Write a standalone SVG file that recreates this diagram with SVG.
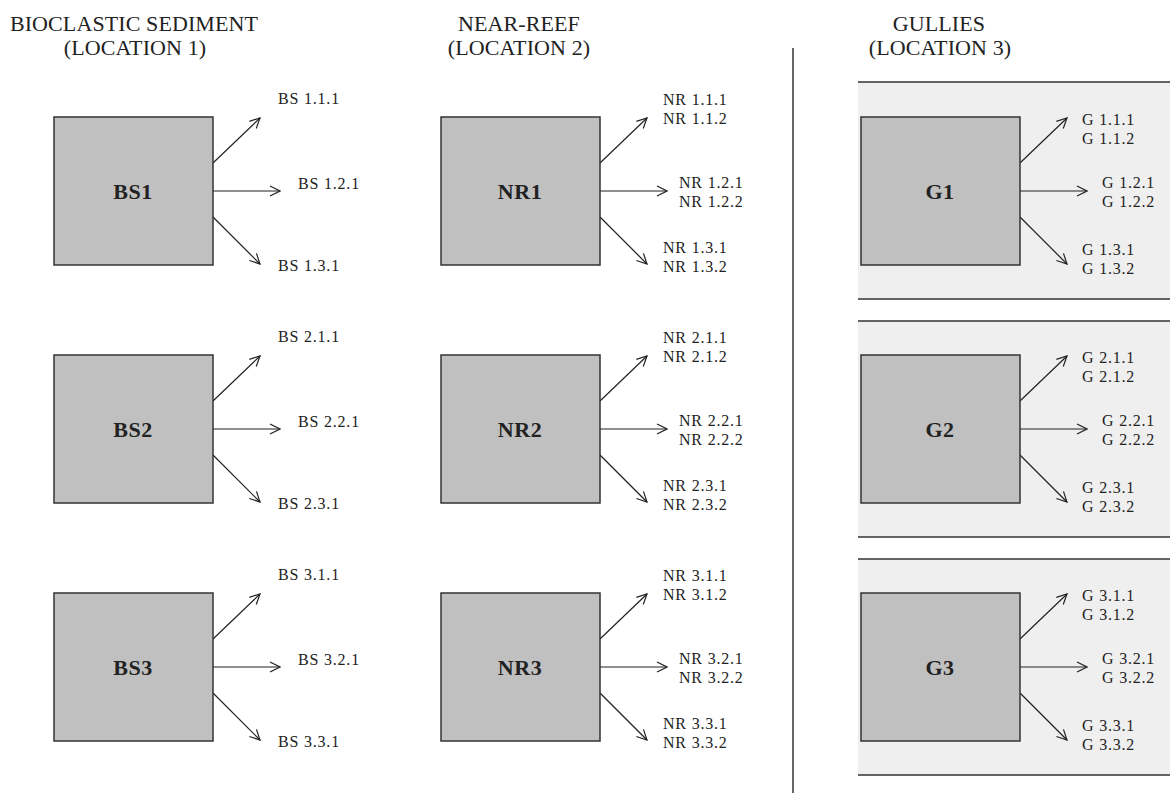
<svg xmlns="http://www.w3.org/2000/svg" width="1170" height="793" viewBox="0 0 1170 793">
<defs>
<marker id="ah" viewBox="0 0 12 12" markerWidth="12" markerHeight="12" refX="11" refY="6" orient="auto" markerUnits="userSpaceOnUse">
<path d="M1,1 L11,6 L1,11" fill="none" stroke="#222" stroke-width="1.2"/>
</marker>
</defs>
<style>
.hdr{font-family:"Liberation Serif","Times New Roman",serif;font-size:22px;letter-spacing:0.1px;fill:#222;text-anchor:middle}
.lbl{font-family:"Liberation Serif","Times New Roman",serif;font-size:16px;letter-spacing:0.8px;fill:#222}
.nt{font-family:"Liberation Serif","Times New Roman",serif;font-size:22px;font-weight:bold;letter-spacing:0.5px;fill:#222;text-anchor:middle}
.box{fill:#c0c0c0;stroke:#333;stroke-width:1.5}
.band{fill:#efefef;stroke:none}
.rule{stroke:#333;stroke-width:1.5}
.arr{stroke:#222;stroke-width:1.2;fill:none;marker-end:url(#ah)}
</style>
<rect width="1170" height="793" fill="#ffffff"/>
<g id="headers">
<text class="hdr" x="134" y="31">BIOCLASTIC SEDIMENT</text>
<text class="hdr" x="135" y="55">(LOCATION 1)</text>
<text class="hdr" x="519" y="31">NEAR-REEF</text>
<text class="hdr" x="519" y="55">(LOCATION 2)</text>
<text class="hdr" x="939" y="31">GULLIES</text>
<text class="hdr" x="940" y="55">(LOCATION 3)</text>
</g>
<g id="bands">
<rect class="band" x="858" y="82" width="312" height="217"/>
<rect class="band" x="858" y="321" width="312" height="216"/>
<rect class="band" x="858" y="559" width="312" height="216"/>
<line class="rule" x1="858" y1="82" x2="1170" y2="82"/>
<line class="rule" x1="858" y1="299" x2="1170" y2="299"/>
<line class="rule" x1="858" y1="321" x2="1170" y2="321"/>
<line class="rule" x1="858" y1="537" x2="1170" y2="537"/>
<line class="rule" x1="858" y1="559" x2="1170" y2="559"/>
<line class="rule" x1="858" y1="775" x2="1170" y2="775"/>
<line class="rule" x1="793" y1="48" x2="793" y2="793"/>
</g>
<g id="connectors">
<path class="arr" d="M213,163 L260,118"/><path class="arr" d="M213,191 L280,191"/><path class="arr" d="M213,217 L260,264"/>
<path class="arr" d="M213,401 L260,356"/><path class="arr" d="M213,429 L280,429"/><path class="arr" d="M213,455 L260,502"/>
<path class="arr" d="M213,639 L260,594"/><path class="arr" d="M213,667 L280,667"/><path class="arr" d="M213,693 L260,740"/>
<path class="arr" d="M600,163 L647,118"/><path class="arr" d="M600,191 L667,191"/><path class="arr" d="M600,217 L647,264"/>
<path class="arr" d="M600,401 L647,356"/><path class="arr" d="M600,429 L667,429"/><path class="arr" d="M600,455 L647,502"/>
<path class="arr" d="M600,639 L647,594"/><path class="arr" d="M600,667 L667,667"/><path class="arr" d="M600,693 L647,740"/>
<path class="arr" d="M1020,163 L1067,118"/><path class="arr" d="M1020,191 L1087,191"/><path class="arr" d="M1020,217 L1067,264"/>
<path class="arr" d="M1020,401 L1067,356"/><path class="arr" d="M1020,429 L1087,429"/><path class="arr" d="M1020,455 L1067,502"/>
<path class="arr" d="M1020,639 L1067,594"/><path class="arr" d="M1020,667 L1087,667"/><path class="arr" d="M1020,693 L1067,740"/>
</g>
<g id="BS1"><rect class="box" x="54" y="117" width="159" height="148"/><text class="nt" x="133" y="199">BS1</text>
<text class="lbl" x="278" y="104">BS 1.1.1</text><text class="lbl" x="298" y="189">BS 1.2.1</text><text class="lbl" x="278" y="271">BS 1.3.1</text></g>
<g id="BS2"><rect class="box" x="54" y="355" width="159" height="148"/><text class="nt" x="133" y="437">BS2</text>
<text class="lbl" x="278" y="342">BS 2.1.1</text><text class="lbl" x="298" y="427">BS 2.2.1</text><text class="lbl" x="278" y="509">BS 2.3.1</text></g>
<g id="BS3"><rect class="box" x="54" y="593" width="159" height="148"/><text class="nt" x="133" y="675">BS3</text>
<text class="lbl" x="278" y="580">BS 3.1.1</text><text class="lbl" x="298" y="665">BS 3.2.1</text><text class="lbl" x="278" y="747">BS 3.3.1</text></g>
<g id="NR1"><rect class="box" x="441" y="117" width="159" height="148"/><text class="nt" x="520" y="199">NR1</text>
<text class="lbl" x="663" y="105">NR 1.1.1</text><text class="lbl" x="663" y="124">NR 1.1.2</text>
<text class="lbl" x="679" y="188">NR 1.2.1</text><text class="lbl" x="679" y="207">NR 1.2.2</text>
<text class="lbl" x="663" y="253">NR 1.3.1</text><text class="lbl" x="663" y="272">NR 1.3.2</text></g>
<g id="NR2"><rect class="box" x="441" y="355" width="159" height="148"/><text class="nt" x="520" y="437">NR2</text>
<text class="lbl" x="663" y="343">NR 2.1.1</text><text class="lbl" x="663" y="362">NR 2.1.2</text>
<text class="lbl" x="679" y="426">NR 2.2.1</text><text class="lbl" x="679" y="445">NR 2.2.2</text>
<text class="lbl" x="663" y="491">NR 2.3.1</text><text class="lbl" x="663" y="510">NR 2.3.2</text></g>
<g id="NR3"><rect class="box" x="441" y="593" width="159" height="148"/><text class="nt" x="520" y="675">NR3</text>
<text class="lbl" x="663" y="581">NR 3.1.1</text><text class="lbl" x="663" y="600">NR 3.1.2</text>
<text class="lbl" x="679" y="664">NR 3.2.1</text><text class="lbl" x="679" y="683">NR 3.2.2</text>
<text class="lbl" x="663" y="729">NR 3.3.1</text><text class="lbl" x="663" y="748">NR 3.3.2</text></g>
<g id="G1"><rect class="box" x="861" y="117" width="159" height="148"/><text class="nt" x="940" y="199">G1</text>
<text class="lbl" x="1082" y="125">G 1.1.1</text><text class="lbl" x="1082" y="144">G 1.1.2</text>
<text class="lbl" x="1102" y="188">G 1.2.1</text><text class="lbl" x="1102" y="207">G 1.2.2</text>
<text class="lbl" x="1082" y="255">G 1.3.1</text><text class="lbl" x="1082" y="274">G 1.3.2</text></g>
<g id="G2"><rect class="box" x="861" y="355" width="159" height="148"/><text class="nt" x="940" y="437">G2</text>
<text class="lbl" x="1082" y="363">G 2.1.1</text><text class="lbl" x="1082" y="382">G 2.1.2</text>
<text class="lbl" x="1102" y="426">G 2.2.1</text><text class="lbl" x="1102" y="445">G 2.2.2</text>
<text class="lbl" x="1082" y="493">G 2.3.1</text><text class="lbl" x="1082" y="512">G 2.3.2</text></g>
<g id="G3"><rect class="box" x="861" y="593" width="159" height="148"/><text class="nt" x="940" y="675">G3</text>
<text class="lbl" x="1082" y="601">G 3.1.1</text><text class="lbl" x="1082" y="620">G 3.1.2</text>
<text class="lbl" x="1102" y="664">G 3.2.1</text><text class="lbl" x="1102" y="683">G 3.2.2</text>
<text class="lbl" x="1082" y="731">G 3.3.1</text><text class="lbl" x="1082" y="750">G 3.3.2</text></g>
</svg>
